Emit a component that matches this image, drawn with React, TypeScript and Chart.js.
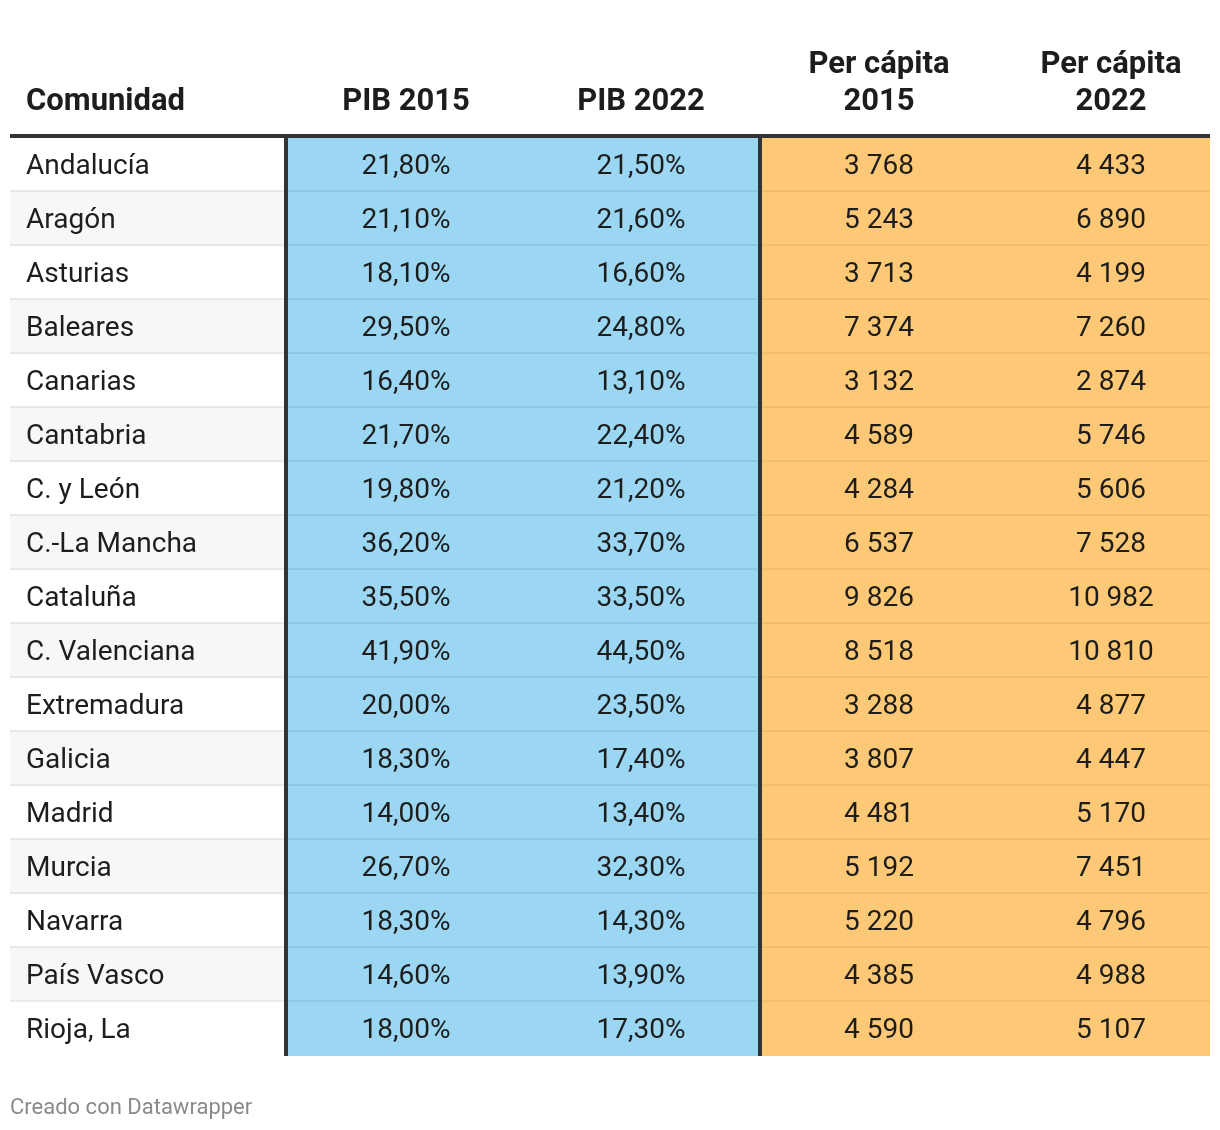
import React, { useEffect, useRef } from "react";
import { Chart, registerables } from "chart.js";

Chart.register(...registerables);

const comunidades = [
  "Andalucía", "Aragón", "Asturias", "Baleares", "Canarias", "Cantabria",
  "C. y León", "C.-La Mancha", "Cataluña", "C. Valenciana", "Extremadura",
  "Galicia", "Madrid", "Murcia", "Navarra", "País Vasco", "Rioja, La",
];
const pib2015 = [21.8, 21.1, 18.1, 29.5, 16.4, 21.7, 19.8, 36.2, 35.5, 41.9, 20.0, 18.3, 14.0, 26.7, 18.3, 14.6, 18.0];
const pib2022 = [21.5, 21.6, 16.6, 24.8, 13.1, 22.4, 21.2, 33.7, 33.5, 44.5, 23.5, 17.4, 13.4, 32.3, 14.3, 13.9, 17.3];
const perCapita2015 = [3768, 5243, 3713, 7374, 3132, 4589, 4284, 6537, 9826, 8518, 3288, 3807, 4481, 5192, 5220, 4385, 4590];
const perCapita2022 = [4433, 6890, 4199, 7260, 2874, 5746, 5606, 7528, 10982, 10810, 4877, 4447, 5170, 7451, 4796, 4988, 5107];
const headers = [["Comunidad"], ["PIB 2015"], ["PIB 2022"], ["Per cápita", "2015"], ["Per cápita", "2022"]];
const footer = "Creado con Datawrapper";

// layout (table units, 0..1200 across the table)
const NAME_END = 276;
const PIB_END = 750;
const TABLE_END = 1200;
const NAME_X = 16;
const COL_CENTERS = [396, 631, 869, 1101];

const fmtPct = (v: number) => v.toFixed(2).replace(".", ",") + "%";
const fmtInt = (v: number) => String(v).replace(/\B(?=(\d{3})+(?!\d))/g, " ");

const TEXT = "#1d1d1d";
const n = comunidades.length;

const tablePlugin = {
  id: "tableText",
  afterDraw(chart: any) {
    const { ctx, chartArea, scales } = chart;
    const xs = scales.x;
    const ys = scales.y;
    ctx.save();
    // header line
    ctx.fillStyle = "#333333";
    const left = xs.getPixelForValue(0);
    const right = xs.getPixelForValue(TABLE_END);
    ctx.fillRect(left, chartArea.top - 4, right - left, 4);
    // vertical dividers
    [NAME_END, PIB_END].forEach((v) => {
      const px = Math.round(xs.getPixelForValue(v));
      ctx.fillRect(px - 2, chartArea.top, 4, chartArea.bottom - chartArea.top);
    });
    // headers
    ctx.fillStyle = TEXT;
    ctx.font = "bold 31px Roboto";
    ctx.textBaseline = "alphabetic";
    const base2 = chartArea.top - 28;
    const base1 = chartArea.top - 65;
    headers.forEach((lines, c) => {
      if (c === 0) {
        ctx.textAlign = "left";
        ctx.fillText(lines[0], xs.getPixelForValue(NAME_X), base2);
      } else {
        ctx.textAlign = "center";
        const cx = xs.getPixelForValue(COL_CENTERS[c - 1]);
        if (lines.length === 1) ctx.fillText(lines[0], cx, base2);
        else {
          ctx.fillText(lines[0], cx, base1);
          ctx.fillText(lines[1], cx, base2);
        }
      }
    });
    // body
    ctx.font = "28px Roboto";
    ctx.textBaseline = "middle";
    for (let i = 0; i < n; i++) {
      const y = ys.getPixelForValue(i) + 2;
      ctx.textAlign = "left";
      ctx.fillText(comunidades[i], xs.getPixelForValue(NAME_X), y);
      ctx.textAlign = "center";
      ctx.fillText(fmtPct(pib2015[i]), xs.getPixelForValue(COL_CENTERS[0]), y);
      ctx.fillText(fmtPct(pib2022[i]), xs.getPixelForValue(COL_CENTERS[1]), y);
      ctx.fillText(fmtInt(perCapita2015[i]), xs.getPixelForValue(COL_CENTERS[2]), y);
      ctx.fillText(fmtInt(perCapita2022[i]), xs.getPixelForValue(COL_CENTERS[3]), y);
    }
    // footer
    ctx.font = "22px Roboto";
    ctx.fillStyle = "#8a8a8a";
    ctx.textAlign = "left";
    ctx.textBaseline = "alphabetic";
    ctx.fillText(footer, xs.getPixelForValue(0), 1114);
    ctx.restore();
  },
};

const sepWidth = (ctx: any) =>
  ctx.dataIndex < n - 1 ? { top: 0, left: 0, right: 0, bottom: 2 } : 0;

export default function App() {
  const ref = useRef<HTMLCanvasElement | null>(null);
  useEffect(() => {
    document.body.style.margin = "0";
    let chart: Chart | null = null;
    let cancelled = false;
    const make = () => {
      if (cancelled || !ref.current) return;
      chart = new Chart(ref.current, {
        type: "bar",
        data: {
          labels: comunidades,
          datasets: [
            {
              label: "Comunidad",
              data: comunidades.map(() => [0, NAME_END]) as any,
              backgroundColor: comunidades.map((_, i) => (i % 2 === 1 ? "#f7f7f7" : "#ffffff")),
              borderColor: "#e6e6e6",
              borderWidth: sepWidth as any,
              borderSkipped: false,
            },
            {
              label: "PIB",
              data: comunidades.map(() => [NAME_END, PIB_END]) as any,
              backgroundColor: "#9bd6f3",
              borderColor: "#8cc6e2",
              borderWidth: sepWidth as any,
              borderSkipped: false,
            },
            {
              label: "Per cápita",
              data: comunidades.map(() => [PIB_END, TABLE_END]) as any,
              backgroundColor: "#fdc976",
              borderColor: "#edbb6c",
              borderWidth: sepWidth as any,
              borderSkipped: false,
            },
          ],
        },
        options: {
          indexAxis: "y",
          responsive: false,
          animation: false,
          events: [],
          layout: { padding: { top: 138, bottom: 74, left: 10, right: 10 } },
          datasets: { bar: { grouped: false, barPercentage: 1, categoryPercentage: 1 } },
          scales: {
            x: { type: "linear", min: 0, max: TABLE_END, display: false },
            y: { type: "category", display: false, offset: true },
          },
          plugins: { legend: { display: false }, tooltip: { enabled: false } },
        },
        plugins: [tablePlugin],
      });
    };
    const fonts = (document as any).fonts;
    if (fonts && fonts.load) {
      Promise.all([fonts.load("bold 31px Roboto"), fonts.load("28px Roboto")])
        .catch(() => null)
        .then(make);
    } else make();
    return () => {
      cancelled = true;
      if (chart) chart.destroy();
    };
  }, []);
  return <canvas ref={ref} width={1220} height={1130} style={{ display: "block" }} />;
}
